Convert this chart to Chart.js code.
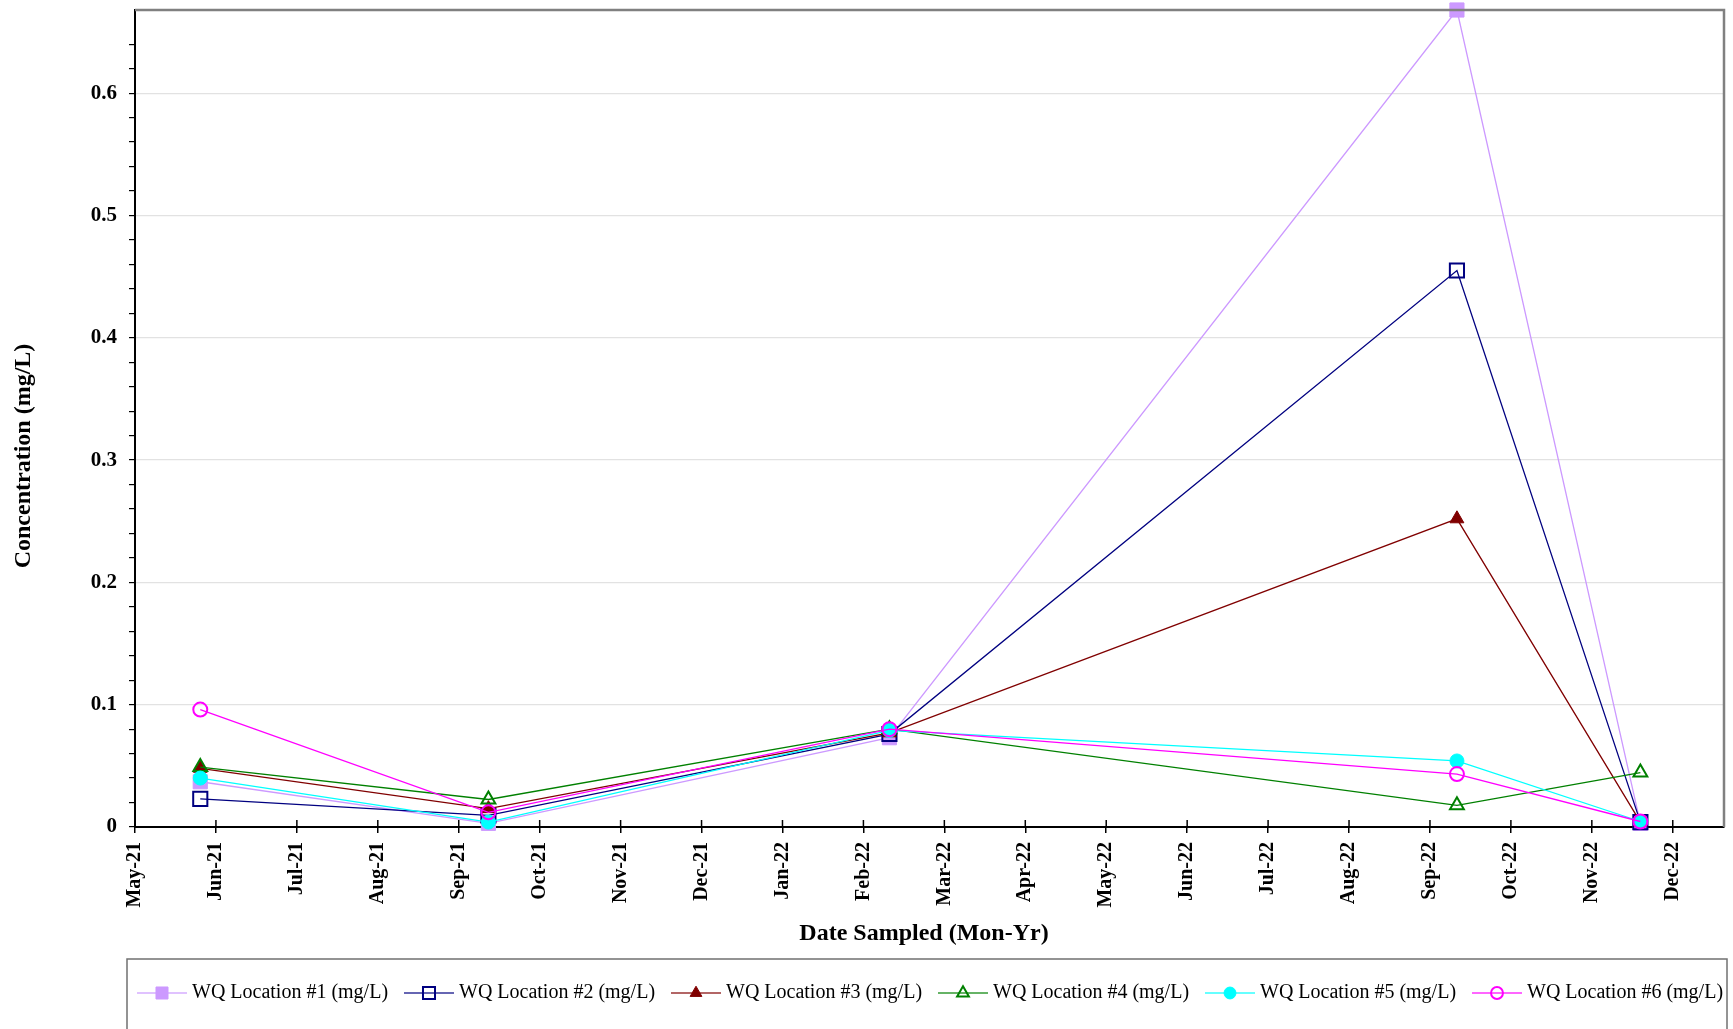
<!DOCTYPE html>
<html>
<head>
<meta charset="utf-8">
<script src="https://cdn.jsdelivr.net/npm/chart.js@4.4.1/dist/chart.umd.min.js"></script>
<style>
    html, body { margin: 0; padding: 0; background: #fff; }
    #wrap { position: relative; width: 1733px; height: 1029px; overflow: hidden; }
</style>
</head>
<body>
<div id="wrap"><canvas id="wq" width="1733" height="1029"></canvas></div>
<script>
// sample dates and month tick labels
const sampleDates = ["2021-05-26", "2021-09-12", "2022-02-10", "2022-09-11", "2022-11-19"];
const monthLabels = ["May-21","Jun-21","Jul-21","Aug-21","Sep-21","Oct-21","Nov-21","Dec-21","Jan-22","Feb-22",
                     "Mar-22","Apr-22","May-22","Jun-22","Jul-22","Aug-22","Sep-22","Oct-22","Nov-22","Dec-22"];
const yTickLabels = ["0", "0.1", "0.2", "0.3", "0.4", "0.5", "0.6"];

// concentrations (mg/L)
const seriesNames = ["WQ Location #1 (mg/L)", "WQ Location #2 (mg/L)", "WQ Location #3 (mg/L)",
                     "WQ Location #4 (mg/L)", "WQ Location #5 (mg/L)", "WQ Location #6 (mg/L)"];
const loc1 = [0.037, 0.003, 0.073, 0.668, 0.003];
const loc2 = [0.023, 0.0095, 0.076, 0.455, 0.004];
const loc3 = [0.048, 0.015, 0.077, 0.252, 0.004];
const loc4 = [0.049, 0.0225, 0.080, 0.0177, 0.0445];
const loc5 = [0.040, 0.004, 0.079, 0.054, 0.0045];
const loc6 = [0.096, 0.012, 0.080, 0.0433, 0.0045];

// month offset from May-21 (axis is evenly spaced by month)
const monthPos = s => {
    const [y, m, d] = s.split("-").map(Number);
    const dim = new Date(y, m, 0).getDate();
    return (y - 2021) * 12 + (m - 5) + (d - 1) / dim;
};
const xs = sampleDates.map(monthPos);

const styles = [
    { color:"#CC99FF", fill:"#CC99FF", shape:"rect",     r:10, bw:1 },
    { color:"#000080", fill:"rgba(0,0,0,0)", shape:"rect", r:10, bw:2 },
    { color:"#800000", fill:"#800000", shape:"triangle", r:8,  bw:1 },
    { color:"#008000", fill:"rgba(0,0,0,0)", shape:"triangle", r:8, bw:2 },
    { color:"#00FFFF", fill:"#00FFFF", shape:"circle",   r:7,  bw:1 },
    { color:"#FF00FF", fill:"rgba(0,0,0,0)", shape:"circle", r:7, bw:2 },
];
const allSeries = [loc1, loc2, loc3, loc4, loc5, loc6];

const datasets = allSeries.map((vals, i) => ({
    label: seriesNames[i],
    data: vals.map((v, k) => ({ x: xs[k], y: v })),
    borderColor: styles[i].color,
    backgroundColor: styles[i].fill,
    pointStyle: styles[i].shape,
    pointRadius: styles[i].r,
    pointBorderWidth: styles[i].bw,
    pointBorderColor: styles[i].color,
    pointBackgroundColor: styles[i].fill,
    borderWidth: 1.3,
    tension: 0,
    clip: false,
    order: allSeries.length - i,
}));

const isMajor = v => Math.abs(v * 10 - Math.round(v * 10)) < 1e-6;
const SERIF = "'Liberation Serif', 'Times New Roman', serif";

const framePlugin = {
    id: "frame",
    afterDraw(chart) {
        const { ctx, chartArea: a, scales } = chart;
        ctx.save();
        // grey top/right border
        ctx.strokeStyle = "#808080";
        ctx.lineWidth = 2.5;
        ctx.beginPath();
        ctx.moveTo(a.left, a.top); ctx.lineTo(a.right, a.top); ctx.lineTo(a.right, a.bottom);
        ctx.stroke();
        // x ticks cross the axis
        ctx.strokeStyle = "#000"; ctx.lineWidth = 1.5;
        scales.x.ticks.forEach(t => {
            const px = scales.x.getPixelForValue(t.value);
            ctx.beginPath(); ctx.moveTo(px, a.bottom - 7); ctx.lineTo(px, a.bottom); ctx.stroke();
        });
        // axis titles
        ctx.fillStyle = "#000";
        ctx.font = "bold 24px " + SERIF;
        ctx.textAlign = "center"; ctx.textBaseline = "middle";
        ctx.fillText("Date Sampled (Mon-Yr)", 924, 934);
        ctx.save();
        ctx.translate(24, 456); ctx.rotate(-Math.PI / 2);
        ctx.fillText("Concentration (mg/L)", 0, 0);
        ctx.restore();
        // legend box
        ctx.strokeStyle = "#707070"; ctx.lineWidth = 1.5;
        ctx.strokeRect(127, 959, 1600, 90);
        ctx.font = "20px " + SERIF;
        ctx.textAlign = "left";
        const ly = 993;
        styles.forEach((s, i) => {
            const x0 = 137 + i * 267;
            ctx.save();
            ctx.globalAlpha = 0.6;
            ctx.strokeStyle = s.color; ctx.lineWidth = 2;
            ctx.beginPath(); ctx.moveTo(x0, ly); ctx.lineTo(x0 + 50, ly); ctx.stroke();
            ctx.restore();
            ctx.fillStyle = s.fill; ctx.strokeStyle = s.color; ctx.lineWidth = s.bw;
            Chart.helpers.drawPoint(ctx, { pointStyle: s.shape, radius: s.r * 0.85, rotation: 0, borderWidth: s.bw }, x0 + 25, ly);
            ctx.fillStyle = "#000";
            ctx.fillText(seriesNames[i], x0 + 55, ly);
        });
        ctx.restore();
    }
};

new Chart(document.getElementById("wq"), {
    type: "line",
    data: { datasets },
    options: {
        responsive: false,
        animation: false,
        devicePixelRatio: 1,
        layout: { autoPadding: false, padding: { left: 0, top: 10, right: 9, bottom: 82 } },
        plugins: { legend: { display: false }, tooltip: { enabled: false } },
        scales: {
            x: {
                type: "linear", min: 0, max: 19.633,
                afterFit: s => { s.height = 120; s.paddingLeft = 0; s.paddingRight = 0; },
                afterBuildTicks: s => { s.ticks = s.ticks.filter(t => Number.isInteger(t.value)); },
                ticks: {
                    stepSize: 1, autoSkip: false, maxRotation: 90, minRotation: 90, padding: 9,
                    color: "#000", font: { family: SERIF, size: 20, weight: "bold" },
                    callback: v => monthLabels[v] ?? "",
                },
                grid: { drawOnChartArea: false, tickLength: 6, tickColor: "#000", lineWidth: 1.5 },
                border: { color: "#000", width: 2 },
            },
            y: {
                type: "linear", min: 0, max: 0.668,
                afterFit: s => { s.width = 135; s.paddingTop = 0; s.paddingBottom = 0; },
                afterBuildTicks: s => { s.ticks = s.ticks.filter(t => Math.abs(t.value * 50 - Math.round(t.value * 50)) < 1e-6); },
                ticks: {
                    stepSize: 0.02, padding: 12, autoSkip: false,
                    color: "#000", font: { family: SERIF, size: 21, weight: "bold" },
                    callback: v => isMajor(v) ? yTickLabels[Math.round(v * 10)] : "",
                },
                grid: {
                    color: c => (c.tick && isMajor(c.tick.value) && c.tick.value > 0) ? "#e2e2e2" : "rgba(0,0,0,0)",
                    tickColor: "#000", tickLength: 6, lineWidth: 1.2,
                },
                border: { color: "#000", width: 2 },
            },
        },
    },
    plugins: [framePlugin],
});
</script>
</body>
</html>
